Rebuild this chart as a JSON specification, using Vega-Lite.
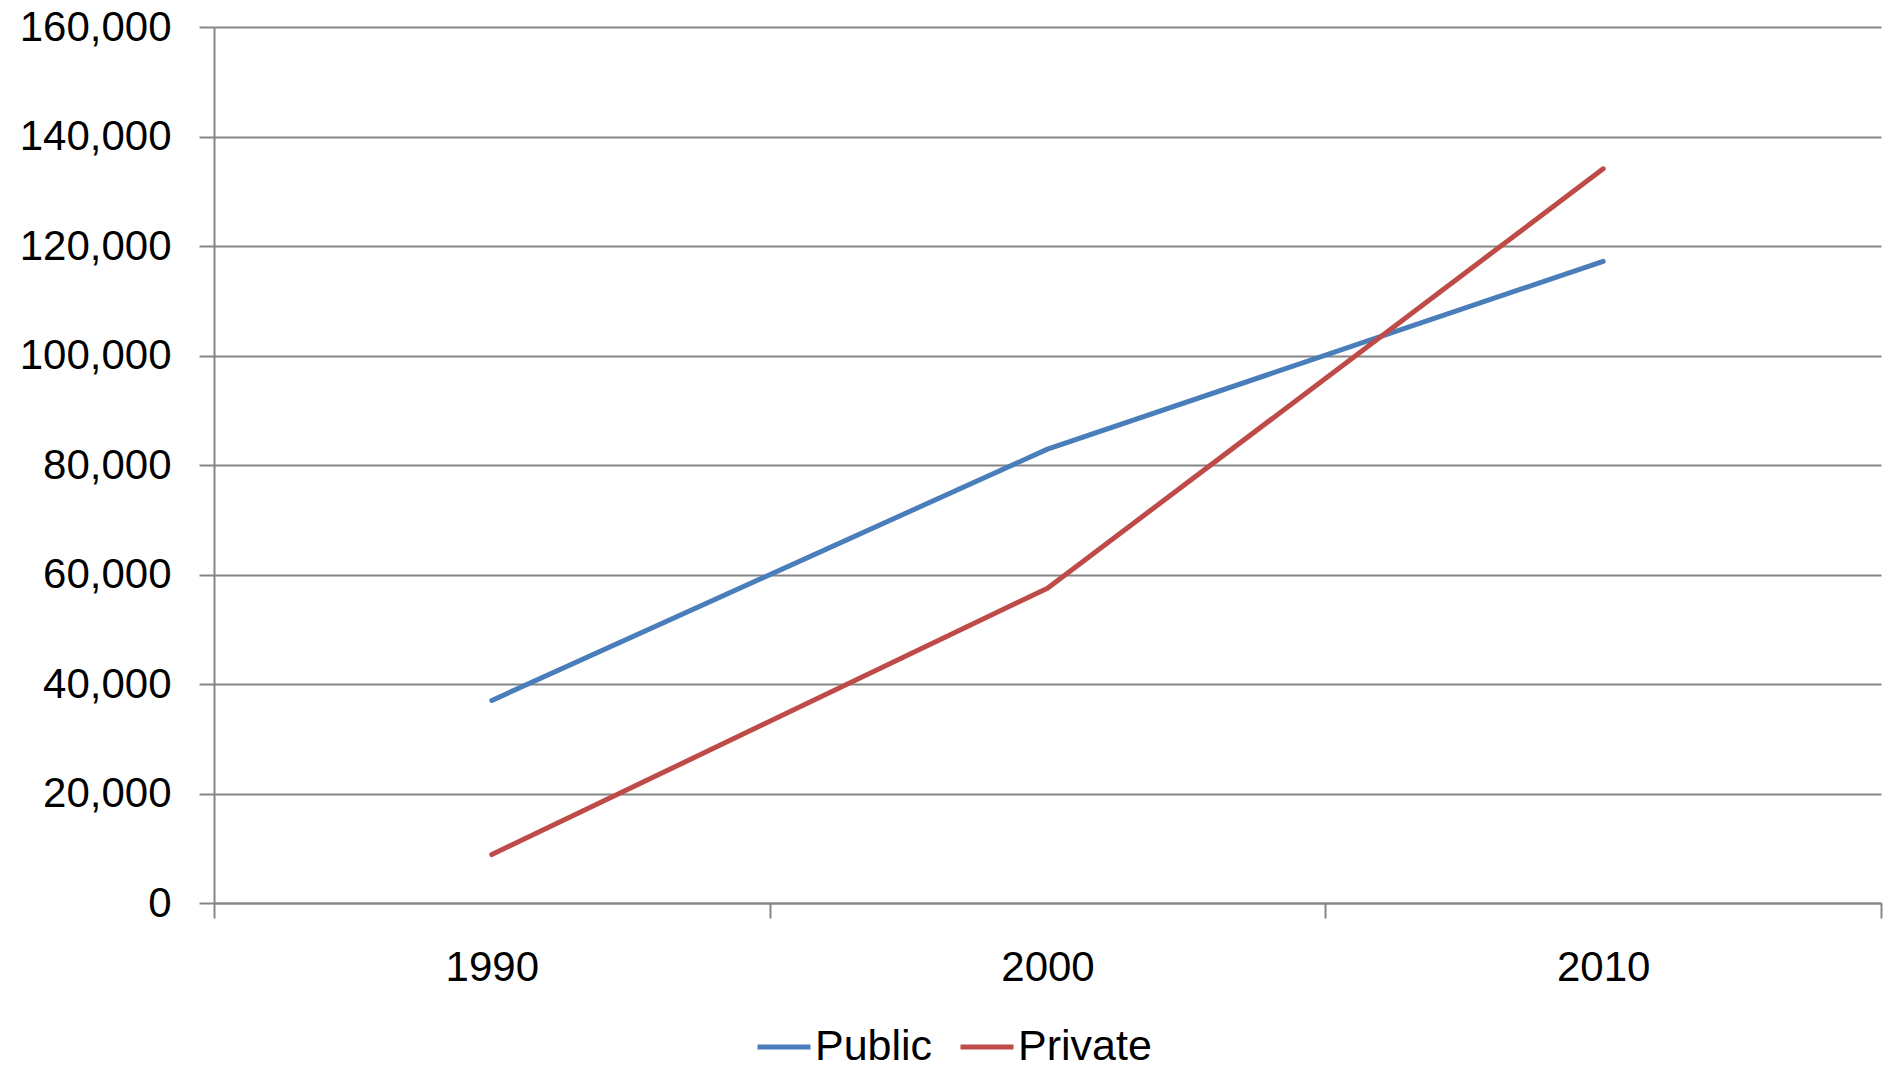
{
  "$schema": "https://vega.github.io/schema/vega-lite/v6.json",
  "width": 1667,
  "height": 876,
  "autosize": {"type": "none"},
  "padding": {"left": 214, "top": 27, "right": 11, "bottom": 165},
  "background": "white",
  "config": {
    "view": {"stroke": null},
    "font": "Liberation Sans"
  },
  "data": {
    "values": [
      {"year": "1990", "series": "Public", "value": 37000},
      {"year": "2000", "series": "Public", "value": 82900},
      {"year": "2010", "series": "Public", "value": 117200},
      {"year": "1990", "series": "Private", "value": 8850},
      {"year": "2000", "series": "Private", "value": 57500},
      {"year": "2010", "series": "Private", "value": 134100}
    ]
  },
  "mark": {"type": "line", "strokeWidth": 5, "strokeCap": "round", "strokeJoin": "round"},
  "encoding": {
    "x": {
      "field": "year",
      "type": "ordinal",
      "bandPosition": 0.5,
      "scale": {"type": "band", "paddingInner": 0, "paddingOuter": 0},
      "axis": {
        "title": null,
        "labelAngle": 0,
        "tickBand": "extent",
        "grid": false,
        "domainColor": "#868686",
        "domainWidth": 2,
        "tickColor": "#868686",
        "tickWidth": 2,
        "tickSize": 15,
        "labelFontSize": 42,
        "labelColor": "black",
        "labelPadding": 29
      }
    },
    "y": {
      "field": "value",
      "type": "quantitative",
      "scale": {"domain": [0, 160000], "nice": false},
      "axis": {
        "title": null,
        "values": [0, 20000, 40000, 60000, 80000, 100000, 120000, 140000, 160000],
        "format": ",.0f",
        "grid": true,
        "gridColor": "#868686",
        "gridWidth": 2,
        "domainColor": "#868686",
        "domainWidth": 2,
        "tickColor": "#868686",
        "tickWidth": 2,
        "tickSize": 15,
        "labelFontSize": 42,
        "labelColor": "black",
        "labelPadding": 28
      }
    },
    "color": {
      "field": "series",
      "type": "nominal",
      "scale": {"domain": ["Public", "Private"], "range": ["#4a7ebb", "#be4b48"]},
      "legend": {
        "orient": "none",
        "legendX": 541,
        "legendY": 991,
        "direction": "horizontal",
        "title": null,
        "symbolType": "stroke",
        "symbolSize": 2809,
        "symbolStrokeWidth": 5,
        "labelFontSize": 43,
        "labelColor": "black",
        "labelOffset": 2,
        "columnPadding": 17,
        "padding": 0
      }
    }
  }
}
